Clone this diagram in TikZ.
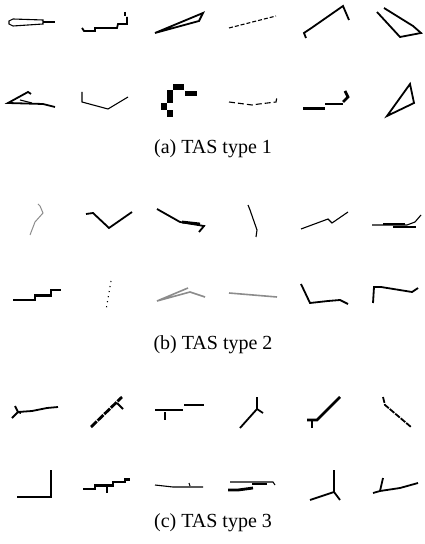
\documentclass[tikz,border=0pt]{standalone}
\usepackage{fontspec}
\setmainfont{Liberation Serif}
\usepackage{tikz}

\begin{document}
\begin{tikzpicture}[x=0.5pt,y=-0.5pt,line join=miter,
    thin stroke/.style={line width=0.55pt},
    mid stroke/.style={line width=0.9pt},
    fat stroke/.style={line width=1.4pt},
    faint/.style={line width=0.5pt,black!45},
    caption/.style={font=\fontsize{10}{12}\selectfont,inner sep=0pt}]
  \useasboundingbox (0,0) rectangle (424,544);
  % (a) TAS type 1, first row
  \draw[thin stroke] (9,21) -- (13,19) -- (43,20) -- (43,24) -- (13,26) -- (9,24) -- cycle;
  \draw[thin stroke] (43,22) -- (55,22);
  \draw[mid stroke] (82,28) -- (84,31) -- (95,31) -- (95,28) -- (117,28) -- (118,24) -- (127,24) -- (127,17);
  \draw[mid stroke] (125,12) -- (125,16);
  \draw[mid stroke] (155,33) -- (203,13) -- (199,21) -- cycle;
  \draw[thin stroke,dashed,dash pattern=on 2pt off 1pt] (229,28) -- (276,16);
  \draw[mid stroke] (306,38) -- (304,33) -- (310,29) -- (343,6) -- (349,20);
  \draw[mid stroke] (377,12) -- (400,37) -- (421,33) -- (413,26) -- (384,8);
  % (a) TAS type 1, second row
  \draw[mid stroke] (55,107) -- (43,104) -- (8,103) -- (28,92) -- (31,94);
  \draw[thin stroke] (20,100) -- (32,103);
  \draw[thin stroke] (82,92) -- (82,102) -- (108,109) -- (128,97);
  \fill (173,84) rectangle (184,90);
  \fill (185,91) rectangle (197,96);
  \fill (167,90) rectangle (173,103);
  \fill (161,103) rectangle (167,110);
  \fill (167,110) rectangle (173,117);
  \draw[thin stroke,dashed,dash pattern=on 3pt off 1.5pt] (229,102) -- (252,105) -- (259,104) -- (276,102) -- (277,97);
  \draw[fat stroke] (303,108.5) -- (325,108.5);
  \draw[fat stroke] (325,104) -- (343,104);
  \draw[fat stroke] (343,102) -- (348,97) -- (345,91);
  \draw[mid stroke] (387,116) -- (410,84) -- (414,103) -- cycle;
  \node[caption] (capa) at (213,149) {(a) TAS type 1};
  % (b) TAS type 2, first row
  \draw[faint] (30,235) -- (35,222) -- (43,213) -- (40,206) -- (38,204);
  \draw[mid stroke] (86,214) -- (93,213) -- (109,228) -- (132,212);
  \draw[mid stroke] (157,209) -- (180,222) -- (204,226) -- (199,232);
  \draw[fat stroke] (182,222) -- (200,224);
  \draw[thin stroke] (248,205) -- (250,210) -- (257,230) -- (256,237);
  \draw[thin stroke] (301,229) -- (328,219) -- (332,223) -- (348,212);
  \draw[thin stroke] (372,225) -- (407,225) -- (415,222) -- (421,215);
  \draw[fat stroke] (383,224) -- (405,224);
  \draw[thin stroke] (393,227) -- (416,227);
  % (b) TAS type 2, second row
  \draw[fat stroke] (13,300) -- (35,300) -- (35,295.5) -- (51,295.5) -- (51,290) -- (61,290);
  \draw[thin stroke,dotted] (111,281) -- (106,310);
  \draw[faint,line width=0.8pt] (205,297) -- (190,292) -- (157,301) -- (188,288);
  \draw[faint,line width=0.8pt] (229,293) -- (277,297);
  \draw[mid stroke] (301,284) -- (310,303) -- (328,301) -- (340,300) -- (348,304);
  \draw[mid stroke] (373,303) -- (374,287) -- (381,287) -- (412,292) -- (418,288);
  \node[caption] (capb) at (213,345) {(b) TAS type 2};
  % (c) TAS type 3, first row
  \draw[mid stroke] (12,418) -- (18,412) -- (32,411) -- (47,408) -- (58,407);
  \draw[mid stroke] (15,406) -- (18,412) -- (21,413);
  \draw[fat stroke,dash pattern=on 4pt off 0.6pt] (91,427) -- (122,397);
  \draw[mid stroke] (117,403) -- (123,409);
  \draw[fat stroke] (155,410) -- (183,410);
  \draw[fat stroke] (184,405) -- (204,405);
  \draw[fat stroke] (165,412) -- (165,420);
  \draw[mid stroke] (240,428) -- (257,409) -- (257,397);
  \draw[mid stroke] (257,409) -- (263,413);
  \draw[fat stroke] (312,428) -- (312,420);
  \draw[fat stroke] (307,420) -- (317,420) -- (340,397);
  \draw[mid stroke,dash pattern=on 3pt off 0.6pt] (383,397) -- (385,405) -- (411,427);
  % (c) TAS type 3, second row
  \draw[fat stroke] (17,497) -- (51,497) -- (51,470);
  \draw[fat stroke] (83,489) -- (95,489) -- (95,485.5) -- (113,485.5) -- (113,482) -- (125,482) -- (125,479.5) -- (130,479.5);
  \draw[fat stroke] (107,487) -- (107,493);
  \draw[thin stroke] (155,485) -- (173,487) -- (203,487);
  \draw[thin stroke] (189,483) -- (190,486);
  \draw[thin stroke] (230,482) -- (273,482) -- (275,485);
  \draw[fat stroke] (252,484) -- (267,484);
  \draw[fat stroke] (228,490) -- (238,490) -- (253,488);
  \draw[mid stroke] (334,470) -- (334,492) -- (310,500);
  \draw[mid stroke] (334,492) -- (340,500);
  \draw[mid stroke] (373,493) -- (380,491) -- (400,488) -- (418,483);
  \draw[mid stroke] (380,491) -- (383,478);
  \node[caption] (capc) at (213,523) {(c) TAS type 3};
\end{tikzpicture}
\end{document}
